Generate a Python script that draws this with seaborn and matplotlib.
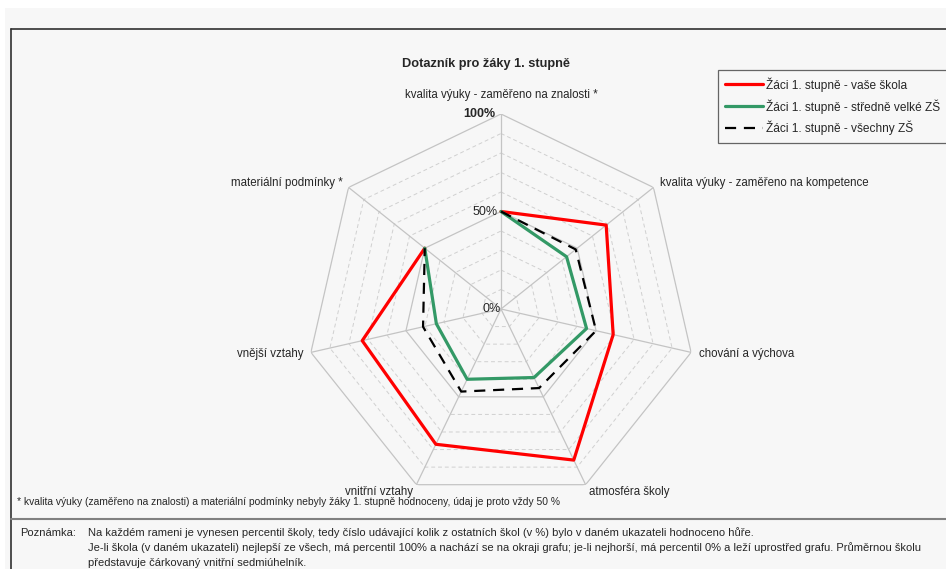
import numpy as np
import pandas as pd
import seaborn as sns
import matplotlib.pyplot as plt
from matplotlib.patches import Rectangle
from matplotlib.lines import Line2D

# data (percentile, 0..1)
categories = ["kvalita výuky - zaměřeno na znalosti *",
              "kvalita výuky - zaměřeno na kompetence",
              "chování a výchova",
              "atmosféra školy",
              "vnitřní vztahy",
              "vnější vztahy",
              "materiální podmínky *"]
vase_skola = [0.50, 0.69, 0.59, 0.86, 0.77, 0.73, 0.50]
stredne_velke = [0.50, 0.43, 0.45, 0.39, 0.40, 0.34, 0.50]
vsechny_zs = [0.50, 0.49, 0.50, 0.45, 0.47, 0.41, 0.50]
series_names = ["Žáci 1. stupně - vaše škola",
                "Žáci 1. stupně - středně velké ZŠ",
                "Žáci 1. stupně - všechny ZŠ"]
rings = [0.1, 0.2, 0.3, 0.4, 0.5, 0.6, 0.7, 0.8, 0.9, 1.0]
tick_labels = {0.0: "0%", 0.5: "50%", 1.0: "100%"}

sns.set_style("white")
plt.rcParams['font.family'] = ['Liberation Sans', 'DejaVu Sans']

W, H = 946, 569
fig = plt.figure(figsize=(W / 100, H / 100), dpi=100)
fig.patch.set_facecolor('white')

# grey background panel and frame
fig.patches.append(Rectangle((5 / W, 0), 1, 1 - 8 / H, transform=fig.transFigure,
                             facecolor='#f7f7f7', edgecolor='none', zorder=-5))
fig.lines.append(Line2D([11 / W, 1], [1 - 29 / H, 1 - 29 / H], transform=fig.transFigure,
                        color='#303030', lw=1.2, zorder=-4))
fig.lines.append(Line2D([11 / W, 11 / W], [0, 1 - 29 / H], transform=fig.transFigure,
                        color='#303030', lw=1.2, zorder=-4))
fig.lines.append(Line2D([11 / W, 1], [1 - 519 / H, 1 - 519 / H], transform=fig.transFigure,
                        color='#808080', lw=1.5, zorder=-4))

cx, cy, R = 501, 309, 195
ax = fig.add_axes([(cx - R) / W, 1 - (cy + R) / H, 2 * R / W, 2 * R / H], polar=True)
ax.set_facecolor('none')
ax.set_theta_offset(np.pi / 2)
ax.set_theta_direction(-1)

n = len(categories)
theta = np.arange(n) * 2 * np.pi / n
theta_c = np.append(theta, theta[0])

# heptagon grid
for r in rings:
    if r in (0.5, 1.0):
        ax.plot(theta_c, [r] * (n + 1), color='#c4c4c4', lw=0.9, zorder=1)
    else:
        ax.plot(theta_c, [r] * (n + 1), color='#d0d0d0', lw=0.7, ls=(0, (4, 3)), zorder=1)
for t in theta:
    ax.plot([t, t], [0, 1], color='#c4c4c4', lw=0.9, zorder=1)

df = pd.DataFrame({'theta': theta_c,
                   'vase': np.append(vase_skola, vase_skola[0]),
                   'stredne': np.append(stredne_velke, stredne_velke[0]),
                   'vsechny': np.append(vsechny_zs, vsechny_zs[0])})

sns.lineplot(data=df, x='theta', y='vase', sort=False, ax=ax, color='#ff0000',
             lw=2.3, label=series_names[0], zorder=3)
sns.lineplot(data=df, x='theta', y='stredne', sort=False, ax=ax, color='#339966',
             lw=2.3, label=series_names[1], zorder=3)
sns.lineplot(data=df, x='theta', y='vsechny', sort=False, ax=ax, color='black',
             lw=1.6, ls=(0, (5, 3.5)), label=series_names[2], zorder=4)

ax.set_ylim(0, 1)
ax.set_xticks([])
ax.set_yticks([])
ax.grid(False)
ax.spines['polar'].set_visible(False)
ax.set_xlabel('')
ax.set_ylabel('')

handles, labels = ax.get_legend_handles_labels()
ax.get_legend().remove()

# axis labels
for t, lab in zip(theta, categories):
    deg = np.degrees(t)
    if deg < 1:
        ax.text(t, 1.065, lab, ha='center', va='bottom', fontsize=8.3)
    elif deg < 180:
        ax.text(t, 1.04, lab, ha='left', va='center', fontsize=8.3)
    else:
        ax.text(t, 1.04, lab, ha='right', va='center', fontsize=8.3)

for r, lab in tick_labels.items():
    ax.text(-0.03, r, lab, ha='right', va='center', fontsize=9,
            fontweight='bold' if r > 0.9 else 'normal')

fig.text(486 / W, 1 - 64 / H, "Dotazník pro žáky 1. stupně", ha='center', va='center',
         fontsize=9.2, fontweight='bold')

leg = fig.legend(handles, labels, loc='upper left', bbox_to_anchor=(718 / W, 1 - 70 / H),
                 fontsize=8.6, frameon=True, fancybox=False, handlelength=3.2,
                 handletextpad=0.2, labelspacing=0.62, borderpad=0.6, borderaxespad=0)
leg.get_frame().set_edgecolor('#404040')
leg.get_frame().set_facecolor('#f7f7f7')
leg.get_frame().set_linewidth(0.9)

fig.text(17 / W, 1 - 502 / H,
         "* kvalita výuky (zaměřeno na znalosti) a materiální podmínky nebyly žáky 1. stupně "
         "hodnoceny, údaj je proto vždy 50 %", ha='left', va='center', fontsize=7.4)

fig.text(20 / W, 1 - 533 / H, "Poznámka:", ha='left', va='center', fontsize=8)
notes = ["Na každém rameni je vynesen percentil školy, tedy číslo udávající kolik z ostatních "
         "škol (v %) bylo v daném ukazateli hodnoceno hůře.",
         "Je-li škola (v daném ukazateli) nejlepší ze všech, má percentil 100% a nachází se na "
         "okraji grafu; je-li nejhorší, má percentil 0% a leží uprostřed grafu. Průměrnou školu",
         "představuje čárkovaný vnitřní sedmiúhelník."]
for i, line in enumerate(notes):
    fig.text(88 / W, 1 - (533 + 15 * i) / H, line, ha='left', va='center', fontsize=8)

fig.savefig('out.png', dpi=100)
